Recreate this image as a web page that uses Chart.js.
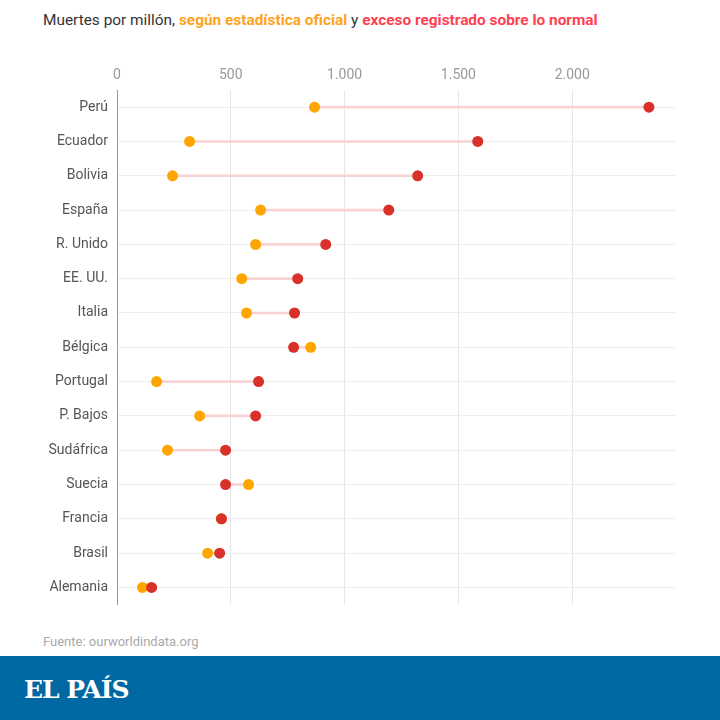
<!DOCTYPE html>
<html>
<head>
<meta charset="utf-8">
<script src="https://cdn.jsdelivr.net/npm/chart.js@4/dist/chart.umd.min.js"></script>
<style>
  body { margin: 0; width: 720px; height: 720px; background: #fff; position: relative; font-family: "Roboto", sans-serif; overflow: hidden; }
  #titulo { position: absolute; left: 43px; top: 11px; font-size: 15.4px; color: #333; }
  #titulo .of { color: #ffa31a; font-weight: bold; }
  #titulo .ex { color: #ff4154; font-weight: bold; }
  #grafico { position: absolute; left: 0; top: 56px; width: 720px; height: 566px; }
  #fuente { position: absolute; left: 43px; top: 634px; font-size: 13px; color: #aaa; }
  #banda { position: absolute; left: 0; top: 656px; width: 720px; height: 64px; background: #0069a3; }
  #logo { position: absolute; left: 24px; top: 19px; color: #fff; font-family: "DejaVu Serif", "Liberation Serif", serif; font-weight: bold; font-size: 25px; letter-spacing: -1px; }
</style>
</head>
<body>
<div id="titulo">Muertes por millón, <span class="of">según estadística oficial</span> y <span class="ex">exceso registrado sobre lo normal</span></div>
<div id="grafico"><canvas id="chartMuertes"></canvas></div>
<div id="fuente">Fuente: ourworldindata.org</div>
<div id="banda"><div id="logo">EL PAÍS</div></div>
<script>
/*-------------- datos ------------*/
var paises = ["Perú", "Ecuador", "Bolivia", "España", "R. Unido", "EE. UU.", "Italia", "Bélgica",
	"Portugal", "P. Bajos", "Sudáfrica", "Suecia", "Francia", "Brasil", "Alemania"];
var oficial = [868, 319, 244, 631, 609, 548, 569, 851, 174, 363, 222, 578, 458, 398, 112];
var exceso = [2337, 1585, 1321, 1194, 917, 794, 780, 776, 622, 609, 477, 477, 459, 451, 152];
var ticksX = [0, 500, 1000, 1500, 2000];

function miles(v) {
	return String(v).replace(/\B(?=(\d{3})+(?!\d))/g, ".");
}

var ctx = document.getElementById("chartMuertes").getContext('2d');

var chart = new Chart(ctx, {
	type: 'bar',
	data: {
		labels: paises,
		datasets: [{
			// linea que une los dos puntos
			type: 'bar',
			data: paises.map(function (p, i) { return [oficial[i], exceso[i]]; }),
			backgroundColor: '#f9d3d3',
			barThickness: 2,
			order: 3
		}, {
			type: 'line',
			label: 'Oficial',
			data: paises.map(function (p, i) { return { x: oficial[i], y: p }; }),
			showLine: false,
			pointRadius: 5.5,
			pointBackgroundColor: '#ffa500',
			pointBorderWidth: 0,
			order: 2
		}, {
			type: 'line',
			label: 'Exceso',
			data: paises.map(function (p, i) { return { x: exceso[i], y: p }; }),
			showLine: false,
			pointRadius: 5.5,
			pointBackgroundColor: '#d9302a',
			pointBorderWidth: 0,
			order: 1
		}]
	},
	options: {
		indexAxis: 'y',
		responsive: true,
		maintainAspectRatio: false,
		animation: false,
		layout: { padding: { left: 0, right: 44, top: 0, bottom: 0 } },
		plugins: {
			legend: { display: false },
			tooltip: { enabled: false }
		},
		scales: {
			x: {
				type: 'linear',
				position: 'top',
				min: 0,
				max: 2456,
				afterBuildTicks: function (scale) {
					scale.ticks = ticksX.map(function (v) { return { value: v }; });
				},
				afterFit: function (scale) { scale.height = 34; },
				ticks: {
					color: '#999',
					font: { family: "Roboto, sans-serif", size: 14 },
					padding: 6,
					callback: function (v) { return miles(v); }
				},
				grid: { color: '#e6e6e6', drawTicks: false },
				border: { display: false }
			},
			y: {
				type: 'category',
				afterFit: function (scale) { scale.width = 117; },
				ticks: {
					color: '#555',
					font: { family: "Roboto, sans-serif", size: 14 },
					padding: 9
				},
				grid: { color: '#eeeeee', drawTicks: false, offset: false },
				border: { display: true, color: '#999' }
			}
		}
	}
});
</script>
</body>
</html>
